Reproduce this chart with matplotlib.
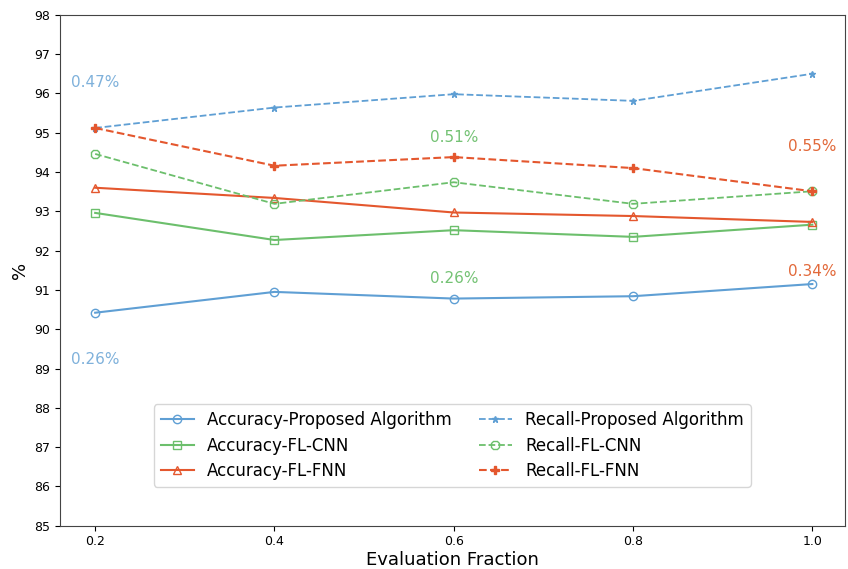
from matplotlib import pyplot as plt

fractions = [0.2, 0.4, 0.6, 0.8, 1.0]

acc_proposed = [90.42, 90.95, 90.78, 90.84, 91.15]
acc_cnn = [92.96, 92.27, 92.52, 92.35, 92.66]
acc_fnn = [93.60, 93.34, 92.97, 92.88, 92.73]
rec_proposed = [95.12, 95.64, 95.98, 95.81, 96.50]
rec_cnn = [94.46, 93.19, 93.74, 93.19, 93.51]
rec_fnn = [95.12, 94.16, 94.38, 94.10, 93.51]

# gap labels: (x, y, text, colour key)
notes = [
    (0.2, 96.28, '0.47%', 'blue'),
    (0.2, 89.22, '0.26%', 'blue'),
    (0.6, 94.87, '0.51%', 'green'),
    (0.6, 91.30, '0.26%', 'green'),
    (1.0, 94.65, '0.55%', 'orange'),
    (1.0, 91.48, '0.34%', 'orange'),
]

blue = '#5f9fd4'
green = '#6cbf6c'
orange = '#e4572e'
text_col = {'blue': '#7fb1db', 'green': '#74c274', 'orange': '#e2693a'}

fig = plt.figure(figsize=(8.48, 5.69), dpi=100)
ax = fig.add_axes([0.071, 0.076, 0.925, 0.898])

ax.plot(fractions, acc_proposed, color=blue, marker='o', mfc='none', ms=6, lw=1.5, label='Accuracy-Proposed Algorithm')
ax.plot(fractions, acc_cnn, color=green, marker='s', mfc='none', ms=6, lw=1.5, label='Accuracy-FL-CNN')
ax.plot(fractions, acc_fnn, color=orange, marker='^', mfc='none', ms=6, lw=1.5, label='Accuracy-FL-FNN')
ax.plot(fractions, rec_proposed, color=blue, marker='*', ms=5, lw=1.3, ls='--', label='Recall-Proposed Algorithm')
ax.plot(fractions, rec_cnn, color=green, marker='8', mfc='none', ms=6, lw=1.3, ls='--', label='Recall-FL-CNN')
ax.plot(fractions, rec_fnn, color=orange, marker='P', ms=6, lw=1.5, ls='--', label='Recall-FL-FNN')

for x, y, t, c in notes:
    ax.text(x, y, t, color=text_col[c], fontsize=11, ha='center', va='center')

ax.set_xlim(0.161, 1.036)
ax.set_ylim(85, 98)
ax.set_xticks(fractions)
ax.set_yticks(range(85, 99))
ax.tick_params(labelsize=9)
for s in ax.spines.values():
    s.set_color('#444444')
ax.set_xlabel('Evaluation Fraction', fontsize=13, labelpad=2)
ax.set_ylabel('%', fontsize=13)
ax.legend(ncol=2, loc='lower center', bbox_to_anchor=(0.5, 0.06), fontsize=12,
          columnspacing=1.6, handlelength=2.0, labelspacing=0.45)

fig.savefig('out.png')
